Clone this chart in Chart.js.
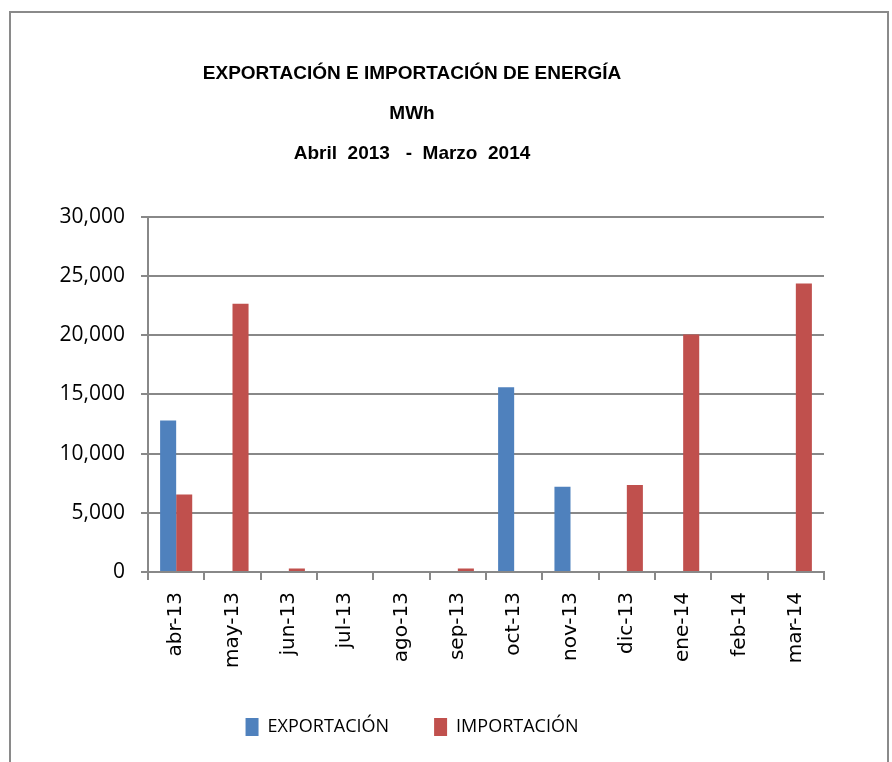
<!DOCTYPE html>
<html>
<head>
<meta charset="utf-8">
<script src="https://cdn.jsdelivr.net/npm/chart.js@4"></script>
<style>
  html, body { margin: 0; padding: 0; background: #fff; }
  #wrap { position: relative; width: 892px; height: 762px; }
</style>
</head>
<body>
<div id="wrap"><canvas id="energyChart" width="892" height="762"></canvas></div>
<script>
const months = ['abr-13', 'may-13', 'jun-13', 'jul-13', 'ago-13', 'sep-13',
                'oct-13', 'nov-13', 'dic-13', 'ene-14', 'feb-14', 'mar-14'];
const exportacion = [12800, 0, 0, 0, 0, 0, 15600, 7200, 0, 0, 0, 0];
const importacion = [6550, 22650, 300, 0, 0, 300, 0, 0, 7350, 20050, 0, 24350];
const titleLines = ['EXPORTACIÓN E IMPORTACIÓN DE ENERGÍA', 'MWh', 'Abril  2013   -  Marzo  2014'];

const gridGray = '#888888';

// outer frame like the original chart box
const framePlugin = {
  id: 'frame',
  beforeDraw(chart) {
    const ctx = chart.ctx;
    ctx.save();
    ctx.fillStyle = '#fff';
    ctx.fillRect(0, 0, chart.width, chart.height);
    ctx.strokeStyle = '#8a8a8a';
    ctx.lineWidth = 2;
    ctx.strokeRect(10, 12, 878, 800);
    ctx.restore();
  }
};

const ctx = document.getElementById('energyChart').getContext('2d');
new Chart(ctx, {
  type: 'bar',
  data: {
    labels: months,
    datasets: [
      {
        label: 'EXPORTACIÓN',
        data: exportacion,
        backgroundColor: '#4F81BD',
        borderWidth: 0
      },
      {
        label: 'IMPORTACIÓN',
        data: importacion,
        backgroundColor: '#C0504D',
        borderWidth: 0
      }
    ]
  },
  options: {
    responsive: false,
    animation: false,
    layout: {
      padding: { left: 0, right: 68, top: 0, bottom: 16 }
    },
    datasets: {
      bar: { categoryPercentage: 0.57, barPercentage: 1.0 }
    },
    plugins: {
      tooltip: { enabled: false },
      title: {
        display: true,
        text: titleLines,
        color: '#000',
        font: { family: '"Liberation Sans Narrow", "Liberation Sans", sans-serif', size: 19, weight: 'bold', lineHeight: 2.1 },
        padding: { top: 54, bottom: 43 }
      },
      legend: {
        position: 'bottom',
        labels: {
          color: '#000',
          boxWidth: 13,
          boxHeight: 18,
          padding: 45,
          font: { family: '"Open Sans", sans-serif', size: 18 }
        }
      }
    },
    scales: {
      x: {
        offset: true,
        afterFit(scale) { scale.height = 101; },
        grid: {
          offset: true,
          drawOnChartArea: false,
          drawTicks: true,
          tickLength: 8,
          color: gridGray,
          lineWidth: 2
        },
        border: { color: gridGray, width: 2 },
        ticks: {
          color: '#000',
          maxRotation: 90,
          minRotation: 90,
          padding: 12,
          font: { family: '"DejaVu Sans", sans-serif', size: 20 }
        }
      },
      y: {
        min: 0,
        max: 30000,
        afterFit(scale) { scale.width = 148; },
        grid: {
          color: gridGray,
          lineWidth: 2,
          tickLength: 7
        },
        border: { color: gridGray, width: 2 },
        ticks: {
          stepSize: 5000,
          color: '#000',
          padding: 16,
          font: { family: '"Open Sans", sans-serif', size: 21 },
          callback: v => v.toLocaleString('en-US')
        }
      }
    }
  },
  plugins: [framePlugin]
});
</script>
</body>
</html>
